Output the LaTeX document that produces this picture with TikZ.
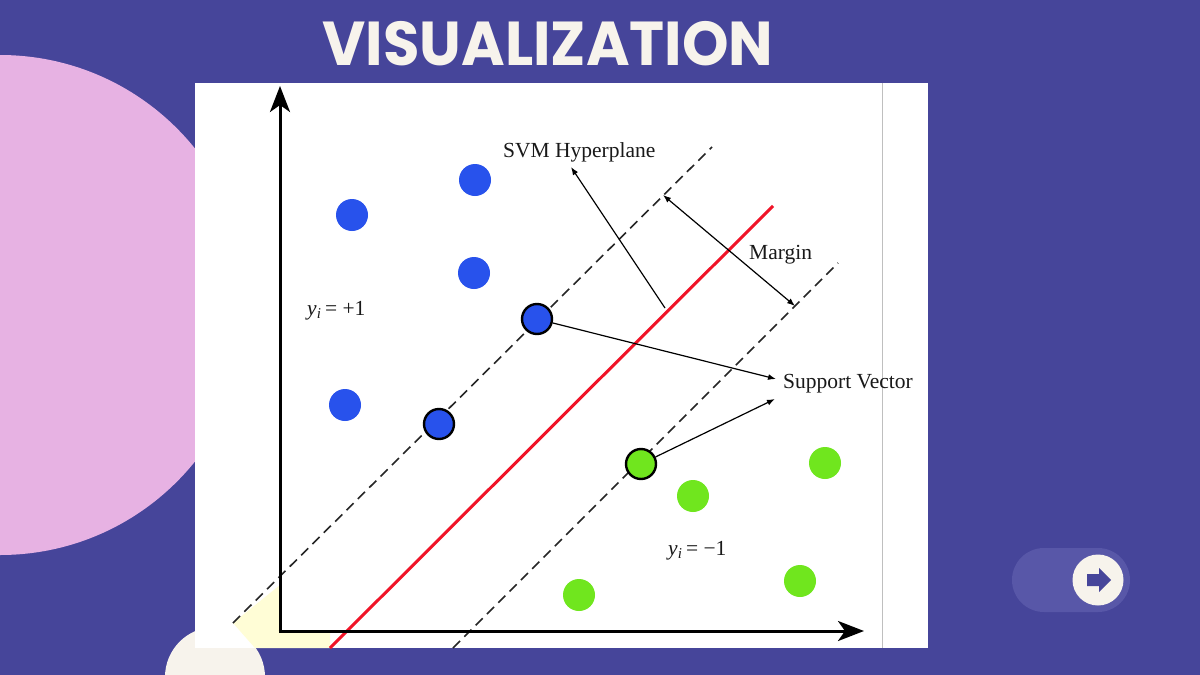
\documentclass[tikz,border=0pt]{standalone}
\usepackage{fontspec}
\setmainfont{Liberation Serif}
\newfontfamily\titlefont{Poppins}
\usepackage{xcolor}
\usetikzlibrary{arrows.meta, positioning}

\definecolor{bgpurple}{RGB}{70,69,154}
\definecolor{pillpurple}{RGB}{88,87,168}
\definecolor{softpink}{RGB}{231,178,227}
\definecolor{cream}{RGB}{247,243,236}
\definecolor{svmblue}{RGB}{40,82,236}
\definecolor{svmgreen}{RGB}{112,230,30}
\definecolor{hyperred}{RGB}{240,20,40}

\tikzset{
  sample/.style={circle, inner sep=0pt, minimum size=32pt},
  posclass/.style={sample, fill=svmblue},
  negclass/.style={sample, fill=svmgreen},
  supportvec/.style={draw=black, line width=2.4pt, minimum size=30pt},
  boundary/.style={draw=black!85, line width=1.6pt, dash pattern=on 10pt off 6pt},
  hyperplane/.style={draw=hyperred, line width=3pt},
  axis/.style={-{Stealth[length=26pt, width=20pt, inset=7pt]}, draw=black, line width=3pt},
  pointer/.style={-{Latex[length=8pt, width=6pt]}, draw=black, line width=1.2pt},
  darrow/.style={{Latex[length=8pt, width=6pt]}-{Latex[length=8pt, width=6pt]}, draw=black, line width=1.2pt},
  tag/.style={font=\fontsize{21.5}{24}\selectfont, text=black!90, inner sep=0pt},
}

\begin{document}
\begin{tikzpicture}[x=1pt, y=-1pt]
  % Background
  \useasboundingbox (0,0) rectangle (1200,675);
  \fill[bgpurple] (0,0) rectangle (1200,675);
  \begin{scope}
    \clip (0,0) rectangle (1200,675);
    \fill[softpink] (0,305) circle[radius=250];
    \fill[cream] (215,677) circle[radius=50];
  \end{scope}
  \fill[white] (195,83) rectangle (928,648);
  \fill[yellow!16] (233,623) -- (280,585) -- (280,631) -- (330,631) -- (330,648) -- (255,648) -- cycle;
  \draw[black!25, line width=0.8pt] (882,83) -- (882,648);

  % Title
  \node[text=cream, font=\titlefont\bfseries\fontsize{62}{70}\selectfont, inner sep=0pt, anchor=base, xscale=0.955]
    (title) at (548,65) {VISUALIZATION};

  % Margins and hyperplane
  \coordinate (upA) at (233,623);
  \coordinate (upB) at (712,147);
  \coordinate (lowA) at (453,648);
  \coordinate (lowB) at (838,263);
  \coordinate (redA) at (330,648);
  \coordinate (redB) at (773,206);
  \draw[boundary] (upA) -- (upB);
  \draw[boundary] (lowA) -- (lowB);
  \draw[hyperplane] (redA) -- (redB);

  % Axes
  \coordinate (origin) at (280,631);
  \coordinate (ytip) at (280,86);
  \coordinate (xtip) at (864,631);
  \draw[axis] (origin) -- (ytip);
  \draw[axis] ([xshift=-1.5pt]origin) -- (xtip);

  % Class +1
  \node[posclass] (p1) at (352,215) {};
  \node[posclass] (p2) at (475,180) {};
  \node[posclass] (p3) at (474,273) {};
  \node[posclass] (p4) at (345,405) {};
  \node[posclass, supportvec] (sv1) at (537,319) {};
  \node[posclass, supportvec] (sv2) at (439,424) {};

  % Class -1
  \node[negclass, supportvec] (sv3) at (641,464) {};
  \node[negclass] (n1) at (693,496) {};
  \node[negclass] (n2) at (825,463) {};
  \node[negclass] (n3) at (800,581) {};
  \node[negclass] (n4) at (579,595) {};

  % Labels
  \node[tag, anchor=base west] (hyp) at (503,157) {SVM Hyperplane};
  \node[tag, anchor=base west] (mar) at (749,259) {Margin};
  \node[tag, anchor=base west] (sup) at (783,388) {Support Vector};
  \node[tag, anchor=base west] (plus) at (307,315) {\textit{y}\textsubscript{\textit{i}}\,= +1};
  \node[tag, anchor=base west] (minus) at (668,555) {\textit{y}\textsubscript{\textit{i}}\,= −1};

  % Pointers
  \coordinate (hypfoot) at (665,308);
  \coordinate (hyphead) at (571,167);
  \coordinate (marA) at (663,195);
  \coordinate (marB) at (795,306);
  \coordinate (supA) at (776,379);
  \coordinate (supB) at (775,399);
  \draw[pointer] (hypfoot) -- (hyphead);
  \draw[darrow] (marA) -- (marB);
  \draw[pointer] (sv1) -- (supA);
  \draw[pointer] (sv3) -- (supB);

  % Next button
  \node[fill=pillpurple, rounded corners=32pt, minimum width=118pt, minimum height=64pt, inner sep=0pt]
    (pill) at (1071,580) {};
  \node[circle, fill=cream, minimum size=51pt, inner sep=0pt] (knob) at (1098,580) {};
  \fill[bgpurple] (1087,574) -- (1099,574) -- (1099,568) -- (1111,580) -- (1099,592) -- (1099,586) -- (1087,586) -- cycle;
\end{tikzpicture}
\end{document}
